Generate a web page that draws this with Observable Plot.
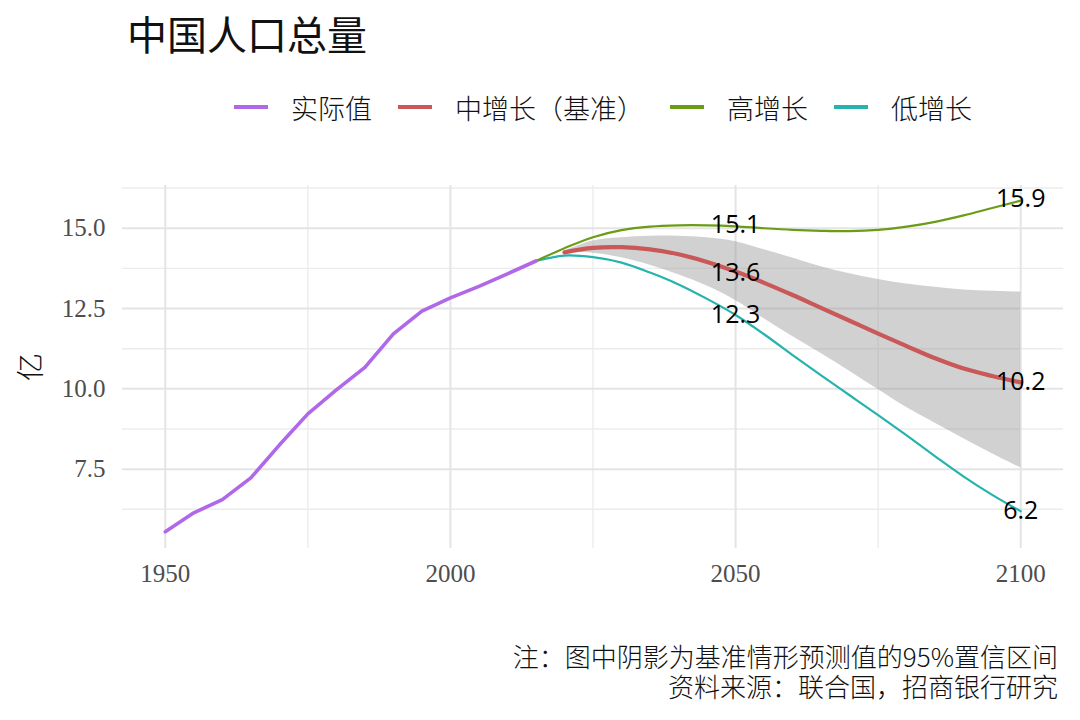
<!DOCTYPE html>
<html>
<head>
<meta charset="utf-8">
<script src="https://cdn.jsdelivr.net/npm/d3@7"></script>
<script src="https://cdn.jsdelivr.net/npm/@observablehq/plot@0.6"></script>
<style>
  html, body { margin: 0; padding: 0; background: #ffffff; }
  #wrap { position: relative; width: 1080px; height: 720px; overflow: hidden; background: #ffffff; }
  #title { position: absolute; left: 127px; top: 8px; font-family: "Noto Sans CJK SC"; font-size: 40px; font-weight: 400; color: #111; line-height: 50px; white-space: nowrap; }
  #legend { position: absolute; left: 234px; top: 90px; height: 34px; display: flex; align-items: center; font-family: "Noto Sans CJK SC"; font-size: 27px; font-weight: 300; color: #111; white-space: nowrap; }
  #legend .sw { width: 34px; height: 4px; margin-right: 23px; }
  #legend .lb { margin-right: 26px; }
  #ylab { position: absolute; left: 29px; top: 367px; transform: translate(-50%, -50%) rotate(-90deg); font-family: "Noto Sans CJK SC"; font-size: 28px; font-weight: 300; color: #111; }
  #chart { position: absolute; left: 0; top: 140px; }
  #caption { position: absolute; right: 22px; top: 641px; text-align: right; font-family: "Noto Sans CJK SC"; font-size: 26px; font-weight: 300; color: #111; white-space: nowrap; }
  #caption div { height: 30px; line-height: 30px; }
</style>
</head>
<body>
<div id="wrap">
  <div id="title"></div>
  <div id="legend"></div>
  <div id="ylab"></div>
  <div id="chart"></div>
  <div id="caption"></div>
</div>
<script>
// ---------- data ----------
const titleText = "中国人口总量";
const yLabel = "亿";
const captionLines = ["注：图中阴影为基准情形预测值的95%置信区间", "资料来源：联合国，招商银行研究"];

const seriesNames = ["实际值", "中增长（基准）", "高增长", "低增长"];
const seriesColors = ["#b068e8", "#c95858", "#6b9c16", "#26b3ad"];

const actualYears = [1950, 1955, 1960, 1965, 1970, 1975, 1980, 1985, 1990, 1995, 2000, 2005, 2010, 2015];
const actualValues = [5.55, 6.14, 6.55, 7.23, 8.25, 9.22, 9.97, 10.67, 11.71, 12.42, 12.83, 13.19, 13.58, 13.98];

const projYears = [2015, 2020, 2025, 2030, 2035, 2040, 2045, 2050, 2055, 2060, 2065, 2070, 2075, 2080, 2085, 2090, 2095, 2100];
const highValues = [13.98, 14.38, 14.72, 14.94, 15.05, 15.09, 15.09, 15.06, 15.00, 14.95, 14.92, 14.91, 14.95, 15.05, 15.20, 15.40, 15.63, 15.86];
const lowValues = [13.98, 14.15, 14.10, 13.93, 13.62, 13.25, 12.80, 12.30, 11.70, 11.05, 10.42, 9.80, 9.18, 8.55, 7.90, 7.27, 6.70, 6.19];

const medYears = [2020, 2025, 2030, 2035, 2040, 2045, 2050, 2055, 2060, 2065, 2070, 2075, 2080, 2085, 2090, 2095, 2100];
const medValues = [14.25, 14.39, 14.41, 14.34, 14.19, 13.95, 13.65, 13.30, 12.92, 12.52, 12.12, 11.72, 11.33, 10.95, 10.63, 10.40, 10.20];
const bandLow = [14.25, 14.22, 14.08, 13.85, 13.55, 13.20, 12.75, 12.18, 11.63, 11.10, 10.55, 9.98, 9.42, 8.93, 8.45, 7.98, 7.54];
const bandHigh = [14.28, 14.60, 14.70, 14.75, 14.75, 14.70, 14.58, 14.33, 14.07, 13.80, 13.58, 13.40, 13.26, 13.16, 13.08, 13.04, 13.01];

const labelYears = [2050, 2050, 2050, 2100, 2100, 2100];
const labelValues = [15.1, 13.6, 12.3, 15.9, 10.2, 6.2];

const xTicks = [1950, 2000, 2050, 2100];
const xMinor = [1975, 2025, 2075];
const yTicks = [7.5, 10.0, 12.5, 15.0];
const yMinor = [6.25, 8.75, 11.25, 13.75, 16.25];

// ---------- build tables ----------
const actual = actualYears.map((x, i) => ({x, y: actualValues[i]}));
const high = projYears.map((x, i) => ({x, y: highValues[i]}));
const low = projYears.map((x, i) => ({x, y: lowValues[i]}));
const med = medYears.map((x, i) => ({x, y: medValues[i], lo: bandLow[i], hi: bandHigh[i]}));
const labels = labelYears.map((x, i) => ({x, y: labelValues[i], t: labelValues[i].toFixed(1)}));

// ---------- html text ----------
document.getElementById("title").textContent = titleText;
document.getElementById("ylab").textContent = yLabel;
const cap = document.getElementById("caption");
captionLines.forEach(l => { const d = document.createElement("div"); d.textContent = l; cap.appendChild(d); });
const leg = document.getElementById("legend");
seriesNames.forEach((n, i) => {
  const s = document.createElement("span"); s.className = "sw"; s.style.background = seriesColors[i]; leg.appendChild(s);
  const t = document.createElement("span"); t.className = "lb"; t.textContent = n; leg.appendChild(t);
});

// ---------- plot ----------
const chart = Plot.plot({
  width: 1080,
  height: 470,
  marginLeft: 122,
  marginRight: 17,
  marginTop: 45,
  marginBottom: 62,
  x: {domain: [1942.5, 2107.5]},
  y: {domain: [5.03, 16.33]},
  style: {fontFamily: "Liberation Serif", fontSize: "25px", color: "#4d4d4d", background: "transparent", overflow: "visible"},
  marks: [
    Plot.ruleY(yMinor, {stroke: "#ececec", strokeWidth: 1.4}),
    Plot.ruleX(xMinor, {stroke: "#ececec", strokeWidth: 1.4}),
    Plot.ruleY(yTicks, {stroke: "#e4e4e4", strokeWidth: 2}),
    Plot.ruleX(xTicks, {stroke: "#e4e4e4", strokeWidth: 2}),
    Plot.axisX({ticks: xTicks, tickSize: 0, tickPadding: 16, tickFormat: d => String(d), label: null, fontSize: 25}),
    Plot.axisY({ticks: yTicks, tickSize: 0, tickPadding: 17, tickFormat: d3.format(".1f"), label: null, fontSize: 25}),
    Plot.areaY(med, {x: "x", y1: "lo", y2: "hi", fill: "#999999", fillOpacity: 0.45, curve: "catmull-rom"}),
    Plot.line(low, {x: "x", y: "y", stroke: seriesColors[3], strokeWidth: 2.2, curve: "catmull-rom"}),
    Plot.line(high, {x: "x", y: "y", stroke: seriesColors[2], strokeWidth: 2.2, curve: "catmull-rom"}),
    Plot.line(med, {x: "x", y: "y", stroke: seriesColors[1], strokeWidth: 4.2, curve: "catmull-rom"}),
    Plot.line(actual, {x: "x", y: "y", stroke: seriesColors[0], strokeWidth: 3.6}),
    Plot.text(labels, {x: "x", y: "y", text: "t", fill: "#000", fontFamily: "Open Sans", fontSize: 25})
  ]
});
document.getElementById("chart").appendChild(chart);
</script>
</body>
</html>
